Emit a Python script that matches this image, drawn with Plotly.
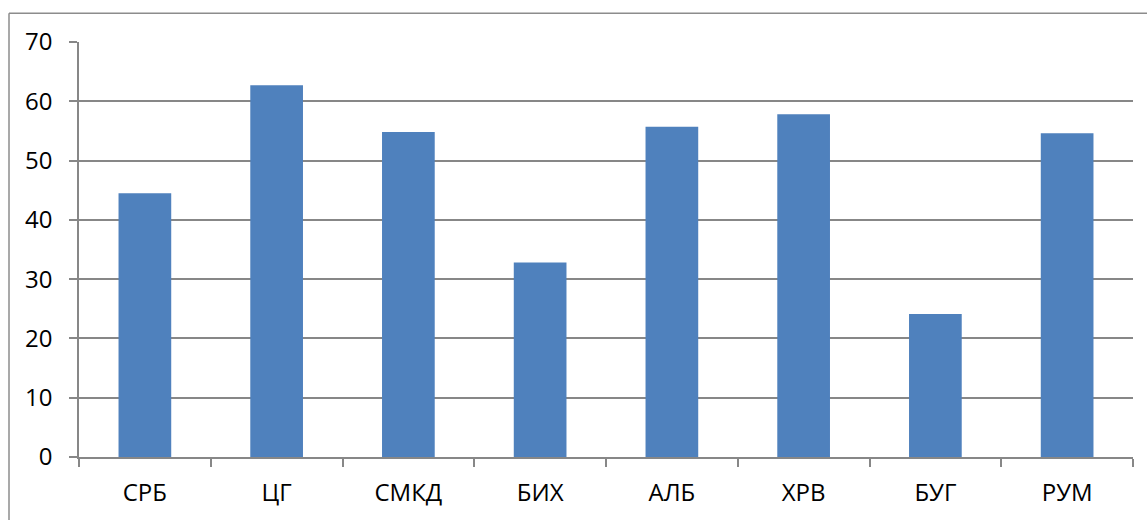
import plotly.graph_objects as go

categories = ["СРБ", "ЦГ", "СМКД", "БИХ", "АЛБ", "ХРВ", "БУГ", "РУМ"]
values = [44.5, 62.7, 54.8, 32.8, 55.7, 57.8, 24.1, 54.6]
y_ticks = [0, 10, 20, 30, 40, 50, 60, 70]

W, H = 1147, 520
L, R, T, B = 79, 14, 42, 61
pw, ph = W - L - R, H - T - B

fig = go.Figure(go.Bar(x=categories, y=values, marker=dict(color="#4F81BD", line=dict(width=0))))

grid = "#878787"
tf = dict(family="Open Sans, Liberation Sans, sans-serif", size=24, color="black")
fig.update_layout(
    width=W, height=H,
    margin=dict(l=L, r=R, t=T, b=B),
    paper_bgcolor="white", plot_bgcolor="white",
    bargap=0.6,
    showlegend=False,
    font=tf,
    xaxis=dict(
        type="category", showline=True, linecolor=grid, linewidth=1.5,
        ticks="outside", tickson="boundaries", ticklen=8, tickcolor=grid, tickwidth=1.5,
        showgrid=False, ticklabelstandoff=13, tickfont=tf,
    ),
    yaxis=dict(
        range=[0, 70], tickvals=y_ticks, showline=True, linecolor=grid, linewidth=1.5,
        ticks="outside", ticklen=8, tickcolor=grid, tickwidth=1.5,
        showgrid=True, gridcolor=grid, gridwidth=1.5, zeroline=False,
        ticklabelstandoff=12, tickfont=tf,
    ),
)

bx = (9 - L) / pw
by = 1 + (T - 13) / ph
fig.add_shape(type="line", xref="paper", yref="paper", x0=bx, x1=1.2, y0=by, y1=by,
              line=dict(color="#8C8C8C", width=1.5))
fig.add_shape(type="line", xref="paper", yref="paper", x0=bx, x1=bx, y0=by, y1=-0.5,
              line=dict(color="#8C8C8C", width=1.5))

fig.write_html("out.html")
